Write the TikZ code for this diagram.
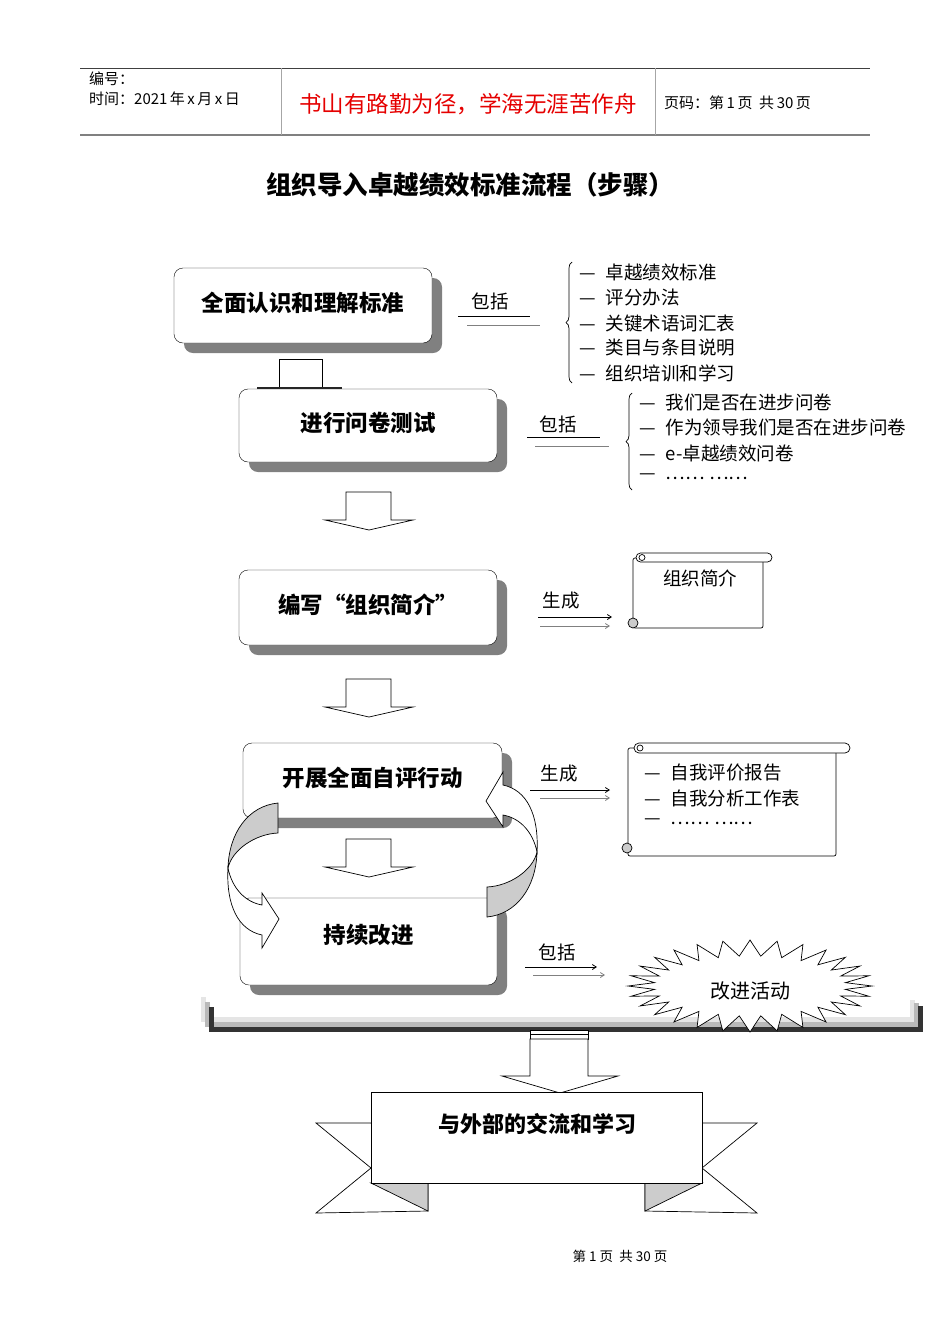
\documentclass[tikz,border=0pt]{standalone}
\usepackage{fontspec}
\setmainfont{Noto Sans CJK SC}
\usetikzlibrary{arrows.meta, positioning, shadows, decorations.pathreplacing}

\begin{document}
\begin{tikzpicture}[
  x={(1pt,0)}, y={(0,-1pt)},
  box/.style={draw, fill=white, rounded corners=9pt, minimum width=258pt, minimum height=75pt, text depth=8pt, font=\fontsize{22.5}{26}\selectfont\bfseries, drop shadow={shadow xshift=10pt, shadow yshift=-10pt, fill=gray, opacity=1}},
  lbl/.style={font=\fontsize{18.5}{22}\selectfont, inner sep=0pt},
  item/.style={lbl, anchor=west},
  head/.style={font=\fontsize{15}{18}\selectfont, inner sep=0pt, anchor=west},
  fat/.style={draw, fill=white, line width=0.7pt},
  arr/.style={-{Straight Barb[length=4pt, width=5pt]}, line width=0.8pt},
  sheet/.style={draw, fill=white, line width=0.7pt},
  brc/.style={decorate, decoration={brace, amplitude=6pt}, line width=0.7pt}
]
\useasboundingbox (0,0) rectangle (950,1344);

\draw[line width=1pt, gray!50!black] (80,68) -- (870,68);
\draw[line width=2pt, gray] (80,135) -- (870,135);
\draw[gray!70] (281,68) -- (281,135);
\draw[gray!70] (655,68) -- (655,135);
\node[head] (code) at (89,79) {编号：};
\node[head] (date) at (89,99) {时间：2021\,年\,x\,月\,x\,日};
\node[font=\fontsize{22.5}{26}\selectfont, text=red!90!black] (motto) at (468,104) {书山有路勤为径，学海无涯苦作舟};
\node[head] (pageno) at (664,103) {页码：第\,1\,页\ \ 共\,30\,页};

\node[font=\fontsize{25.5}{30}\selectfont\bfseries] (title) at (470,185) {组织导入卓越绩效标准流程（步骤）};

\node[box] (know) at (303,305.5) {全面认识和理解标准};
\node[box, minimum height=73pt] (survey) at (368,425.5) {进行问卷测试};
\node[box] (profile) at (368,607.5) {编写“组织简介”};
\node[box, minimum width=259pt] (selfeval) at (372.5,780.5) {开展全面自评行动};
\node[box, minimum width=257pt, minimum height=87pt, text depth=16pt] (improve) at (368.5,941.5) {持续改进};

\draw[line width=0.7pt] (279,388) -- (279,359) -- (322,359) -- (322,388);
\draw[line width=1.5pt, gray!30!black] (257,388) -- (342,388);

\foreach \t in {492, 679, 839}
  \draw[fat] (346,\t) -- (391,\t) -- (391,\t+28) -- (413,\t+28) -- (369,\t+38) -- (325,\t+28) -- (346,\t+28) -- cycle;

\draw[fill=gray!40, line width=0.7pt] (278,803) .. controls (248,806) and (229,833) .. (228,868) .. controls (232,850) and (255,834) .. (278,833) -- cycle;
\draw[fill=white, line width=0.7pt] (228,868) .. controls (232,888) and (245,902) .. (262,905) -- (262,893) -- (279,919) -- (262,948) -- (262,935) .. controls (238,930) and (226,905) .. (228,868) -- cycle;
\begin{scope}[rotate around={180:(382.5,860)}]
  \draw[fill=gray!40, line width=0.7pt] (278,803) .. controls (248,806) and (229,833) .. (228,868) .. controls (232,850) and (255,834) .. (278,833) -- cycle;
  \draw[fill=white, line width=0.7pt] (228,868) .. controls (232,888) and (245,902) .. (262,905) -- (262,893) -- (279,919) -- (262,948) -- (262,935) .. controls (238,930) and (226,905) .. (228,868) -- cycle;
\end{scope}

\node[lbl] (inc1) at (490,301) {包括};
\draw[line width=0.8pt] (458,316) -- (530,316);
\draw[line width=0.8pt, gray] (467,325) -- (540,325);
\draw[brc] (572,383) -- (572,262);
\foreach \y/\t [count=\i] in {272/卓越绩效标准, 298/评分办法, 323/关键术语词汇表, 348/类目与条目说明, 373/组织培训和学习}
  \node[item] (std\i) at (579,\y) {—\hspace{10pt}\t};

\node[lbl] (inc2) at (558,424) {包括};
\draw[line width=0.8pt] (527,437) -- (600,437);
\draw[line width=0.8pt, gray] (535,446) -- (609,446);
\draw[brc] (632,490) -- (632,393);
\foreach \y/\t [count=\i] in {402/我们是否在进步问卷, 427/作为领导我们是否在进步问卷, 453/e-卓越绩效问卷, 477/…… ……}
  \node[item] (qs\i) at (639,\y) {—\hspace{10pt}\t};

\node[lbl] (gen1) at (561,601) {生成};
\draw[arr] (538,617) -- (612,617);
\draw[arr, gray] (540,626) -- (610,626);
\draw[sheet, rounded corners=2pt] (633,558) rectangle (763,628);
\draw[sheet, rounded corners=4.5pt] (636,553) rectangle (772,562);
\draw[line width=0.7pt] (642,557.5) circle (3);
\draw[fill=gray!40, line width=0.7pt] (633,623) circle (5);
\node[lbl] (doc1) at (700,578) {组织简介};

\node[lbl] (gen2) at (559,774) {生成};
\draw[arr] (530,790) -- (610,790);
\draw[arr, gray] (540,798) -- (610,798);
\draw[sheet, rounded corners=2pt] (628,748) rectangle (836,856);
\draw[sheet, rounded corners=5pt] (634,743) rectangle (850,753);
\draw[line width=0.7pt] (640,748) circle (3);
\draw[fill=gray!40, line width=0.7pt] (627,848) circle (5);
\foreach \y/\t [count=\i] in {773/自我评价报告, 798/自我分析工作表, 822/…… ……}
  \node[item] (rep\i) at (644,\y) {—\hspace{10pt}\t};

\node[lbl] (inc3) at (557,952) {包括};
\draw[arr] (525,967) -- (597,967);
\draw[arr, gray] (533,975) -- (605,975);

\draw[line width=5pt, gray!20] (203,997) |- (912,1019) -- (912,1000);
\draw[line width=5pt, gray!55] (207,1002) |- (916,1024) -- (916,1003);
\draw[line width=5pt, black!80] (211,1007) |- (920,1029) -- (920,1006);

\draw[fill=white, line width=0.7pt] (872,986) \foreach \i in {1,...,55} { -- ({750+(122-26*mod(\i,2))*cos(\i*6.4286)}, {986+(46-16*mod(\i,2))*sin(\i*6.4286)}) } -- cycle;
\node[lbl, font=\fontsize{20}{24}\selectfont] (acts) at (750,991) {改进活动};

\draw[fat] (530,1030) rectangle (588,1039);
\draw[line width=0.7pt] (530,1034.5) -- (588,1034.5);
\draw[fat] (530,1039) -- (588,1039) -- (588,1076) -- (618,1076) -- (560,1093) -- (502,1076) -- (530,1076) -- cycle;

\draw[fat] (371,1123) -- (316,1123) -- (371,1168) -- (316,1213) -- (428,1211) -- (428,1183) -- cycle;
\draw[fill=gray!40, line width=0.7pt] (371,1183) -- (428,1183) -- (428,1211) -- cycle;
\draw[fat] (702,1123) -- (757,1123) -- (702,1168) -- (757,1213) -- (645,1211) -- (645,1183) -- cycle;
\draw[fill=gray!40, line width=0.7pt] (702,1183) -- (645,1183) -- (645,1211) -- cycle;
\node[draw, fill=white, line width=0.7pt, minimum width=331pt, minimum height=91pt] (banner) at (536.5,1137.5) {};
\node[font=\fontsize{22}{26}\selectfont\bfseries] (exchange) at (537,1124) {与外部的交流和学习};

\node[font=\fontsize{13.5}{16}\selectfont] (footer) at (620,1256) {第\ 1\ 页\ \ 共\ 30\ 页};
\end{tikzpicture}
\end{document}
